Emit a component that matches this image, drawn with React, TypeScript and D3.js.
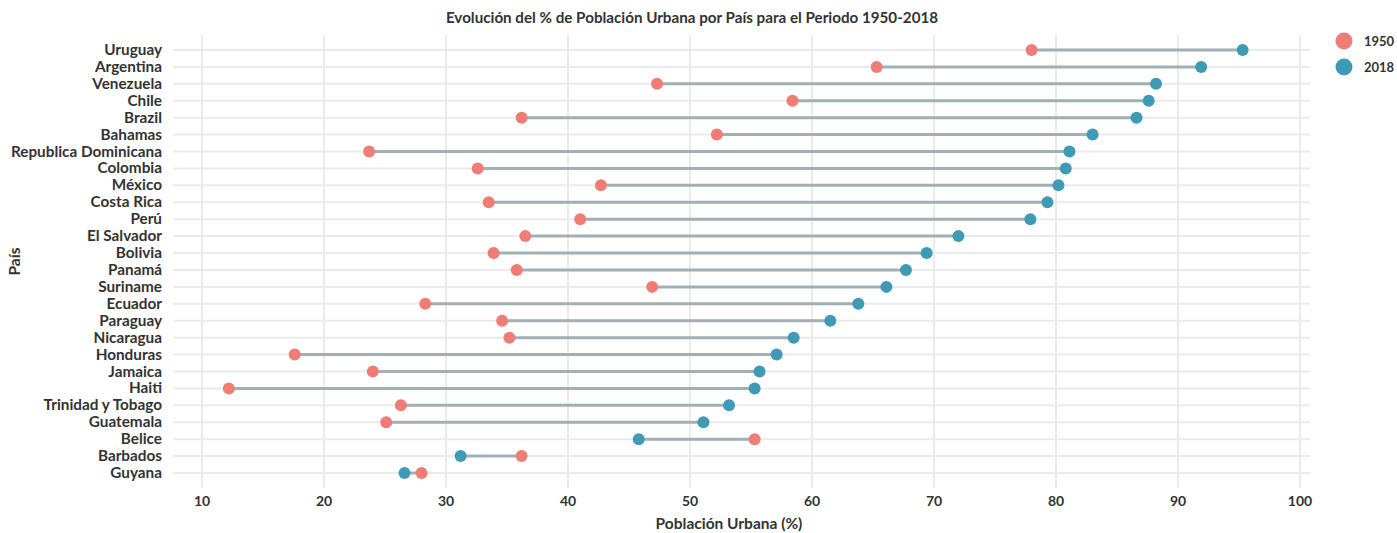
import React from "react";
import * as d3 from "d3";

const countries = [
  "Uruguay", "Argentina", "Venezuela", "Chile", "Brazil", "Bahamas",
  "Republica Dominicana", "Colombia", "México", "Costa Rica", "Perú",
  "El Salvador", "Bolivia", "Panamá", "Suriname", "Ecuador", "Paraguay",
  "Nicaragua", "Honduras", "Jamaica", "Haiti", "Trinidad y Tobago",
  "Guatemala", "Belice", "Barbados", "Guyana",
];
const values1950 = [
  78.0, 65.3, 47.3, 58.4, 36.2, 52.2, 23.7, 32.6, 42.7, 33.5, 41.0,
  36.5, 33.9, 35.8, 46.9, 28.3, 34.6, 35.2, 17.6, 24.0, 12.2, 26.3,
  25.1, 55.3, 36.2, 28.0,
];
const values2018 = [
  95.3, 91.9, 88.2, 87.6, 86.6, 83.0, 81.1, 80.8, 80.2, 79.3, 77.9,
  72.0, 69.4, 67.7, 66.1, 63.8, 61.5, 58.5, 57.1, 55.7, 55.3, 53.2,
  51.1, 45.8, 31.2, 26.6,
];
const xTicks = [10, 20, 30, 40, 50, 60, 70, 80, 90, 100];
const years = ["1950", "2018"];

const W = 1397;
const H = 533;
const C1950 = "#F07C76";
const C2018 = "#3F9AB5";
const SEG = "#A2AFB4";
const GRID = "#EBEBEB";
const TXT = "#333333";
const FONT = "Lato, 'Open Sans', sans-serif";

export default function App() {
  const panel = { left: 173, right: 1310, top: 35, bottom: 488 };
  const x = d3.scaleLinear().domain([10, 100]).range([202, 1300]);
  const y = d3.scalePoint<string>().domain(countries).range([50, 473]);
  const color = d3.scaleOrdinal<string, string>().domain(years).range([C1950, C2018]);

  return (
    <svg width={W} height={H} style={{ position: "absolute", left: 0, top: 0, background: "#fff" }} fontFamily={FONT}>
      {xTicks.map((t) => (
        <line key={"v" + t} x1={x(t)} x2={x(t)} y1={panel.top} y2={panel.bottom} stroke={GRID} strokeWidth={2} />
      ))}
      {countries.map((c) => (
        <line key={"h" + c} x1={panel.left} x2={panel.right} y1={y(c)} y2={y(c)} stroke={GRID} strokeWidth={2} />
      ))}
      {countries.map((c, i) => (
        <line key={"s" + c} x1={x(values1950[i])} x2={x(values2018[i])} y1={y(c)} y2={y(c)} stroke={SEG} strokeWidth={3} />
      ))}
      {countries.map((c, i) => (
        <g key={"p" + c}>
          <circle cx={x(values1950[i])} cy={y(c)} r={6} fill={color("1950")} />
          <circle cx={x(values2018[i])} cy={y(c)} r={6} fill={color("2018")} />
        </g>
      ))}
      {countries.map((c) => (
        <text key={"yl" + c} x={162} y={y(c)} dy="0.33em" textAnchor="end" fontSize={15.3} fontWeight={700} fill={TXT}>
          {c}
        </text>
      ))}
      {xTicks.map((t) => (
        <text key={"xl" + t} x={x(t)} y={501} dy="0.35em" textAnchor="middle" fontSize={14} fontWeight={700} fill={TXT}>
          {t}
        </text>
      ))}
      <text x={729} y={524} dy="0.35em" textAnchor="middle" fontSize={15.5} fontWeight={700} fill={TXT}>
        Población Urbana (%)
      </text>
      <text transform={`translate(15,${(panel.top + panel.bottom) / 2}) rotate(-90)`} dy="0.35em" textAnchor="middle" fontSize={15.5} fontWeight={700} fill={TXT}>
        País
      </text>
      <text x={692} y={18} dy="0.35em" textAnchor="middle" fontSize={15.2} fontWeight={700} fill={TXT}>
        Evolución del % de Población Urbana por País para el Periodo 1950-2018
      </text>
      {years.map((yr, i) => (
        <g key={"lg" + yr} transform={`translate(1344,${41 + i * 26})`}>
          <circle r={8.5} fill={color(yr)} />
          <text x={20} dy="0.35em" fontSize={13} fontWeight={700} fill={TXT}>
            {yr}
          </text>
        </g>
      ))}
    </svg>
  );
}
